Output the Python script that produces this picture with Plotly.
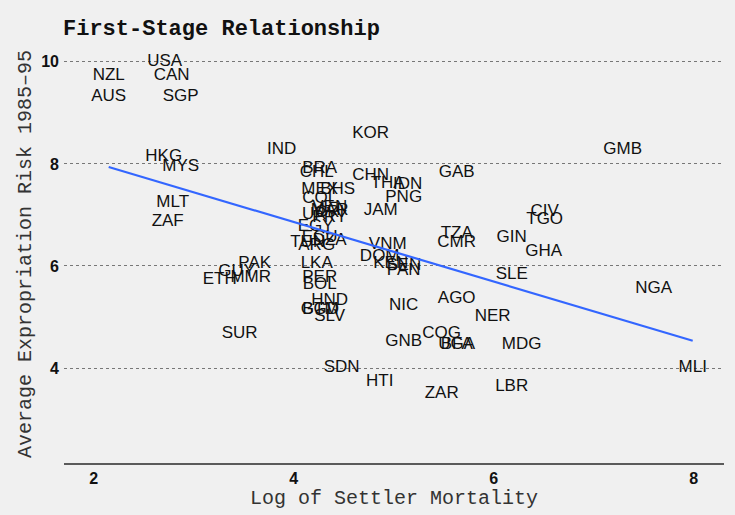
import numpy as np
import plotly.graph_objects as go

countries = ["USA","NZL","CAN","AUS","SGP","HKG","MYS","MLT","ZAF","IND","KOR",
             "PAK","GUY","ETH","MMR","SUR","BRA","CHL","MEX","BHS","COL","VEN",
             "MAR","CRI","URY","PRY","EGY","ECU","DZA","TUN","ARG","LKA","PER",
             "BOL","HND","GTM","BGD","SLV","SDN","CHN","THA","IDN","PNG","JAM",
             "VNM","DOM","KEN","SEN","PAN","NIC","HTI","GNB","COG","UGA","BFA",
             "ZAR","AGO","GAB","TZA","CMR","GIN","SLE","NER","MDG","LBR","CIV",
             "TGO","GHA","GMB","NGA","MLI"]
log_mortality = [2.71,2.15,2.78,2.15,2.87,2.70,2.87,2.79,2.74,3.88,4.77,
                 3.61,3.43,3.26,3.57,3.46,4.26,4.23,4.26,4.44,4.26,4.36,
                 4.36,4.36,4.26,4.36,4.22,4.26,4.36,4.14,4.23,4.23,4.26,
                 4.26,4.36,4.26,4.27,4.36,4.48,4.77,4.94,5.14,5.10,4.87,
                 4.94,4.86,4.97,5.10,5.10,5.10,4.86,5.10,5.48,5.63,5.63,
                 5.48,5.63,5.63,5.63,5.63,6.18,6.18,5.99,6.28,6.18,6.51,
                 6.51,6.50,7.29,7.60,7.99]
expropriation = [10.00,9.73,9.73,9.32,9.32,8.14,7.95,7.23,6.86,8.27,8.59,
                 6.05,5.89,5.73,5.77,4.68,7.91,7.82,7.50,7.50,7.32,7.14,
                 7.09,7.05,7.00,6.95,6.77,6.55,6.50,6.45,6.39,6.05,5.77,
                 5.64,5.32,5.14,5.14,5.00,4.00,7.77,7.62,7.59,7.33,7.09,
                 6.41,6.18,6.05,6.00,5.91,5.23,3.73,4.52,4.68,4.45,4.45,
                 3.50,5.36,7.82,6.64,6.45,6.55,5.82,5.00,4.45,3.64,7.06,
                 6.91,6.27,8.27,5.55,4.00]

x_ticks = [2, 4, 6, 8]
y_ticks = [4, 6, 8, 10]

x = np.array(log_mortality)
y = np.array(expropriation)
slope, intercept = np.polyfit(x, y, 1)
fit_x = np.array([x.min(), x.max()])
fit_y = intercept + slope * fit_x

bg = "#f0f0f0"
mono = "Liberation Mono, Courier New, monospace"
sans = "Liberation Sans, Arial, sans-serif"

fig = go.Figure()
fig.add_trace(go.Scatter(
    x=log_mortality, y=expropriation, mode="text", text=countries,
    textposition="middle center",
    textfont=dict(family=sans, size=17, color="#111111"),
    hoverinfo="text", showlegend=False))
fig.add_trace(go.Scatter(
    x=fit_x, y=fit_y, mode="lines",
    line=dict(color="#3366FF", width=2.2), showlegend=False, hoverinfo="skip"))

fig.update_layout(
    width=735, height=515,
    paper_bgcolor=bg, plot_bgcolor=bg,
    margin=dict(l=64, r=11, t=45, b=52, autoexpand=False),
    title=dict(text="<b>First-Stage Relationship</b>", x=63/735, xanchor="left",
               y=1-27/515, yanchor="middle",
               font=dict(family=mono, size=22, color="#111111")),
    xaxis=dict(range=[1.703, 8.303], tickvals=x_ticks, ticks="", showgrid=False,
               zeroline=False, showline=True, linecolor="#5a5a5a", linewidth=2,
               automargin=False,
               tickfont=dict(family=sans, size=16, color="#111111", weight="bold"),
               title=dict(text="Log of Settler Mortality", standoff=2,
                          font=dict(family=mono, size=20, color="#333333"))),
    yaxis=dict(range=[2.14, 10.33], tickvals=y_ticks, ticks="", showgrid=True,
               gridcolor="#777777", griddash="dot", gridwidth=1, zeroline=False,
               showline=False, ticklabelstandoff=4, automargin=False,
               tickfont=dict(family=sans, size=16, color="#111111", weight="bold"),
               title=dict(text="Average Expropriation Risk 1985\u201395", standoff=4,
                          font=dict(family=mono, size=20, color="#333333"))),
)

fig.write_html("out.html", config={"displayModeBar": False},
               post_script="document.body.style.margin='0';document.body.style.overflow='hidden';")
